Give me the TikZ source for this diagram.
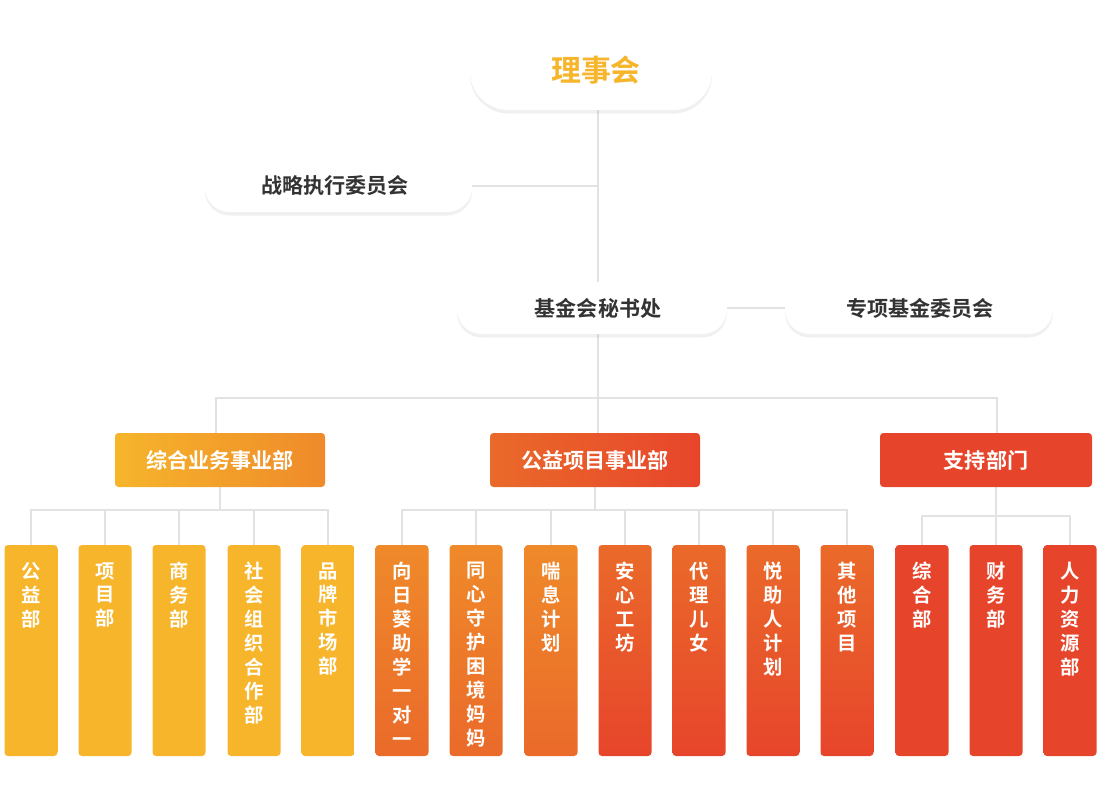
\documentclass[tikz,border=0pt]{standalone}
\usepackage{fontspec}
\setmainfont{Noto Sans CJK SC Bold}
\usetikzlibrary{shadows}
\definecolor{orgA}{HTML}{F6B52B}
\definecolor{orgB}{HTML}{EF8A2A}
\definecolor{orgC}{HTML}{EA6A2A}
\definecolor{redA}{HTML}{E7452B}
\definecolor{lineg}{HTML}{E2E2E2}
\tikzset{
  pill/.style={rounded corners=14pt, fill=white, drop shadow={shadow xshift=0pt, shadow yshift=-2pt, opacity=0.12, fill=gray}},
  pilltext/.style={text=black!80, font=\fontsize{12}{14}\selectfont},
  wire/.style={draw=lineg, line width=1.2pt},
  headbox/.style={rounded corners=2pt, text=white, font=\fontsize{12}{14}\selectfont},
  colbox/.style={rounded corners=2pt}
}
\begin{document}
\begin{tikzpicture}[x=0.02cm, y=-0.02cm]
  \useasboundingbox (0,0) rectangle (1101,788);

  % connectors
  \draw[wire] (598,110) -- (598,398);
  \draw[wire] (472,186) -- (598,186);
  \draw[wire] (727,308) -- (785,308);
  \draw[wire] (216,433) -- (216,398) -- (997,398) -- (997,433);
  \draw[wire] (598,398) -- (598,433);
  \draw[wire] (220,487) -- (220,510);
  \draw[wire] (31,545) -- (31,510) -- (328,510) -- (328,545);
  \draw[wire] (595,487) -- (595,510);
  \draw[wire] (402,545) -- (402,510) -- (847,510) -- (847,545);
  \draw[wire] (996,487) -- (996,545);
  \draw[wire] (922,545) -- (922,516) -- (1070,516) -- (1070,545);
  \foreach \x in {105,179,254,476,551,625,699,773} {
    \draw[wire] (\x,510) -- (\x,545);
  }

  % top boxes
  \filldraw[pill, rounded corners=22pt, draw=none] (470,110) rectangle (712,30);
  \node[text=orgA, font=\fontsize{17}{20}\selectfont] (board) at (596,70) {理事会};
  \filldraw[pill, draw=none] (205,212) rectangle (472,160);
  \node[pilltext] (strat) at (335,186) {战略执行委员会};
  \filldraw[pill, draw=none] (457,334) rectangle (727,282);
  \node[pilltext] (secr) at (598,308) {基金会秘书处};
  \filldraw[pill, draw=none] (785,334) rectangle (1053,282);
  \node[pilltext] (fund) at (920,308) {专项基金委员会};

  % department heads
  \shade[headbox, left color=orgA, right color=orgB] (115,487) rectangle (325,433);
  \node[headbox] (dept1) at (220,460) {综合业务事业部};
  \shade[headbox, left color=orgC, right color=redA] (490,487) rectangle (700,433);
  \node[headbox] (dept2) at (595,460) {公益项目事业部};
  \fill[headbox, redA] (880,487) rectangle (1092,433);
  \node[headbox] (dept3) at (986,460) {支持部门};

  % columns
  \foreach \x/\ca/\cb/\t in {
      31/orgA/orgA/{公\\益\\部},
      105/orgA/orgA/{项\\目\\部},
      179/orgA/orgA/{商\\务\\部},
      254/orgA/orgA/{社\\会\\组\\织\\合\\作\\部},
      328/orgA/orgA/{品\\牌\\市\\场\\部},
      402/orgB/orgC/{向\\日\\葵\\助\\学\\一\\对\\一},
      476/orgB/orgC/{同\\心\\守\\护\\困\\境\\妈\\妈},
      551/orgB/orgC/{喘\\息\\计\\划},
      625/orgC/redA/{安\\心\\工\\坊},
      699/orgC/redA/{代\\理\\儿\\女},
      773/orgC/redA/{悦\\助\\人\\计\\划},
      847/orgC/redA/{其\\他\\项\\目},
      922/redA/redA/{综\\合\\部},
      996/redA/redA/{财\\务\\部},
      1070/redA/redA/{人\\力\\资\\源\\部}} {
    \shade[colbox, top color=\ca, bottom color=\cb] (\x-26.5,756) rectangle (\x+26.5,545);
    \node[anchor=north, text=white, align=center, inner sep=0pt, font=\fontsize{11}{13.6}\selectfont] (col\x) at (\x,562) {\t};
  }
\end{tikzpicture}
\end{document}
